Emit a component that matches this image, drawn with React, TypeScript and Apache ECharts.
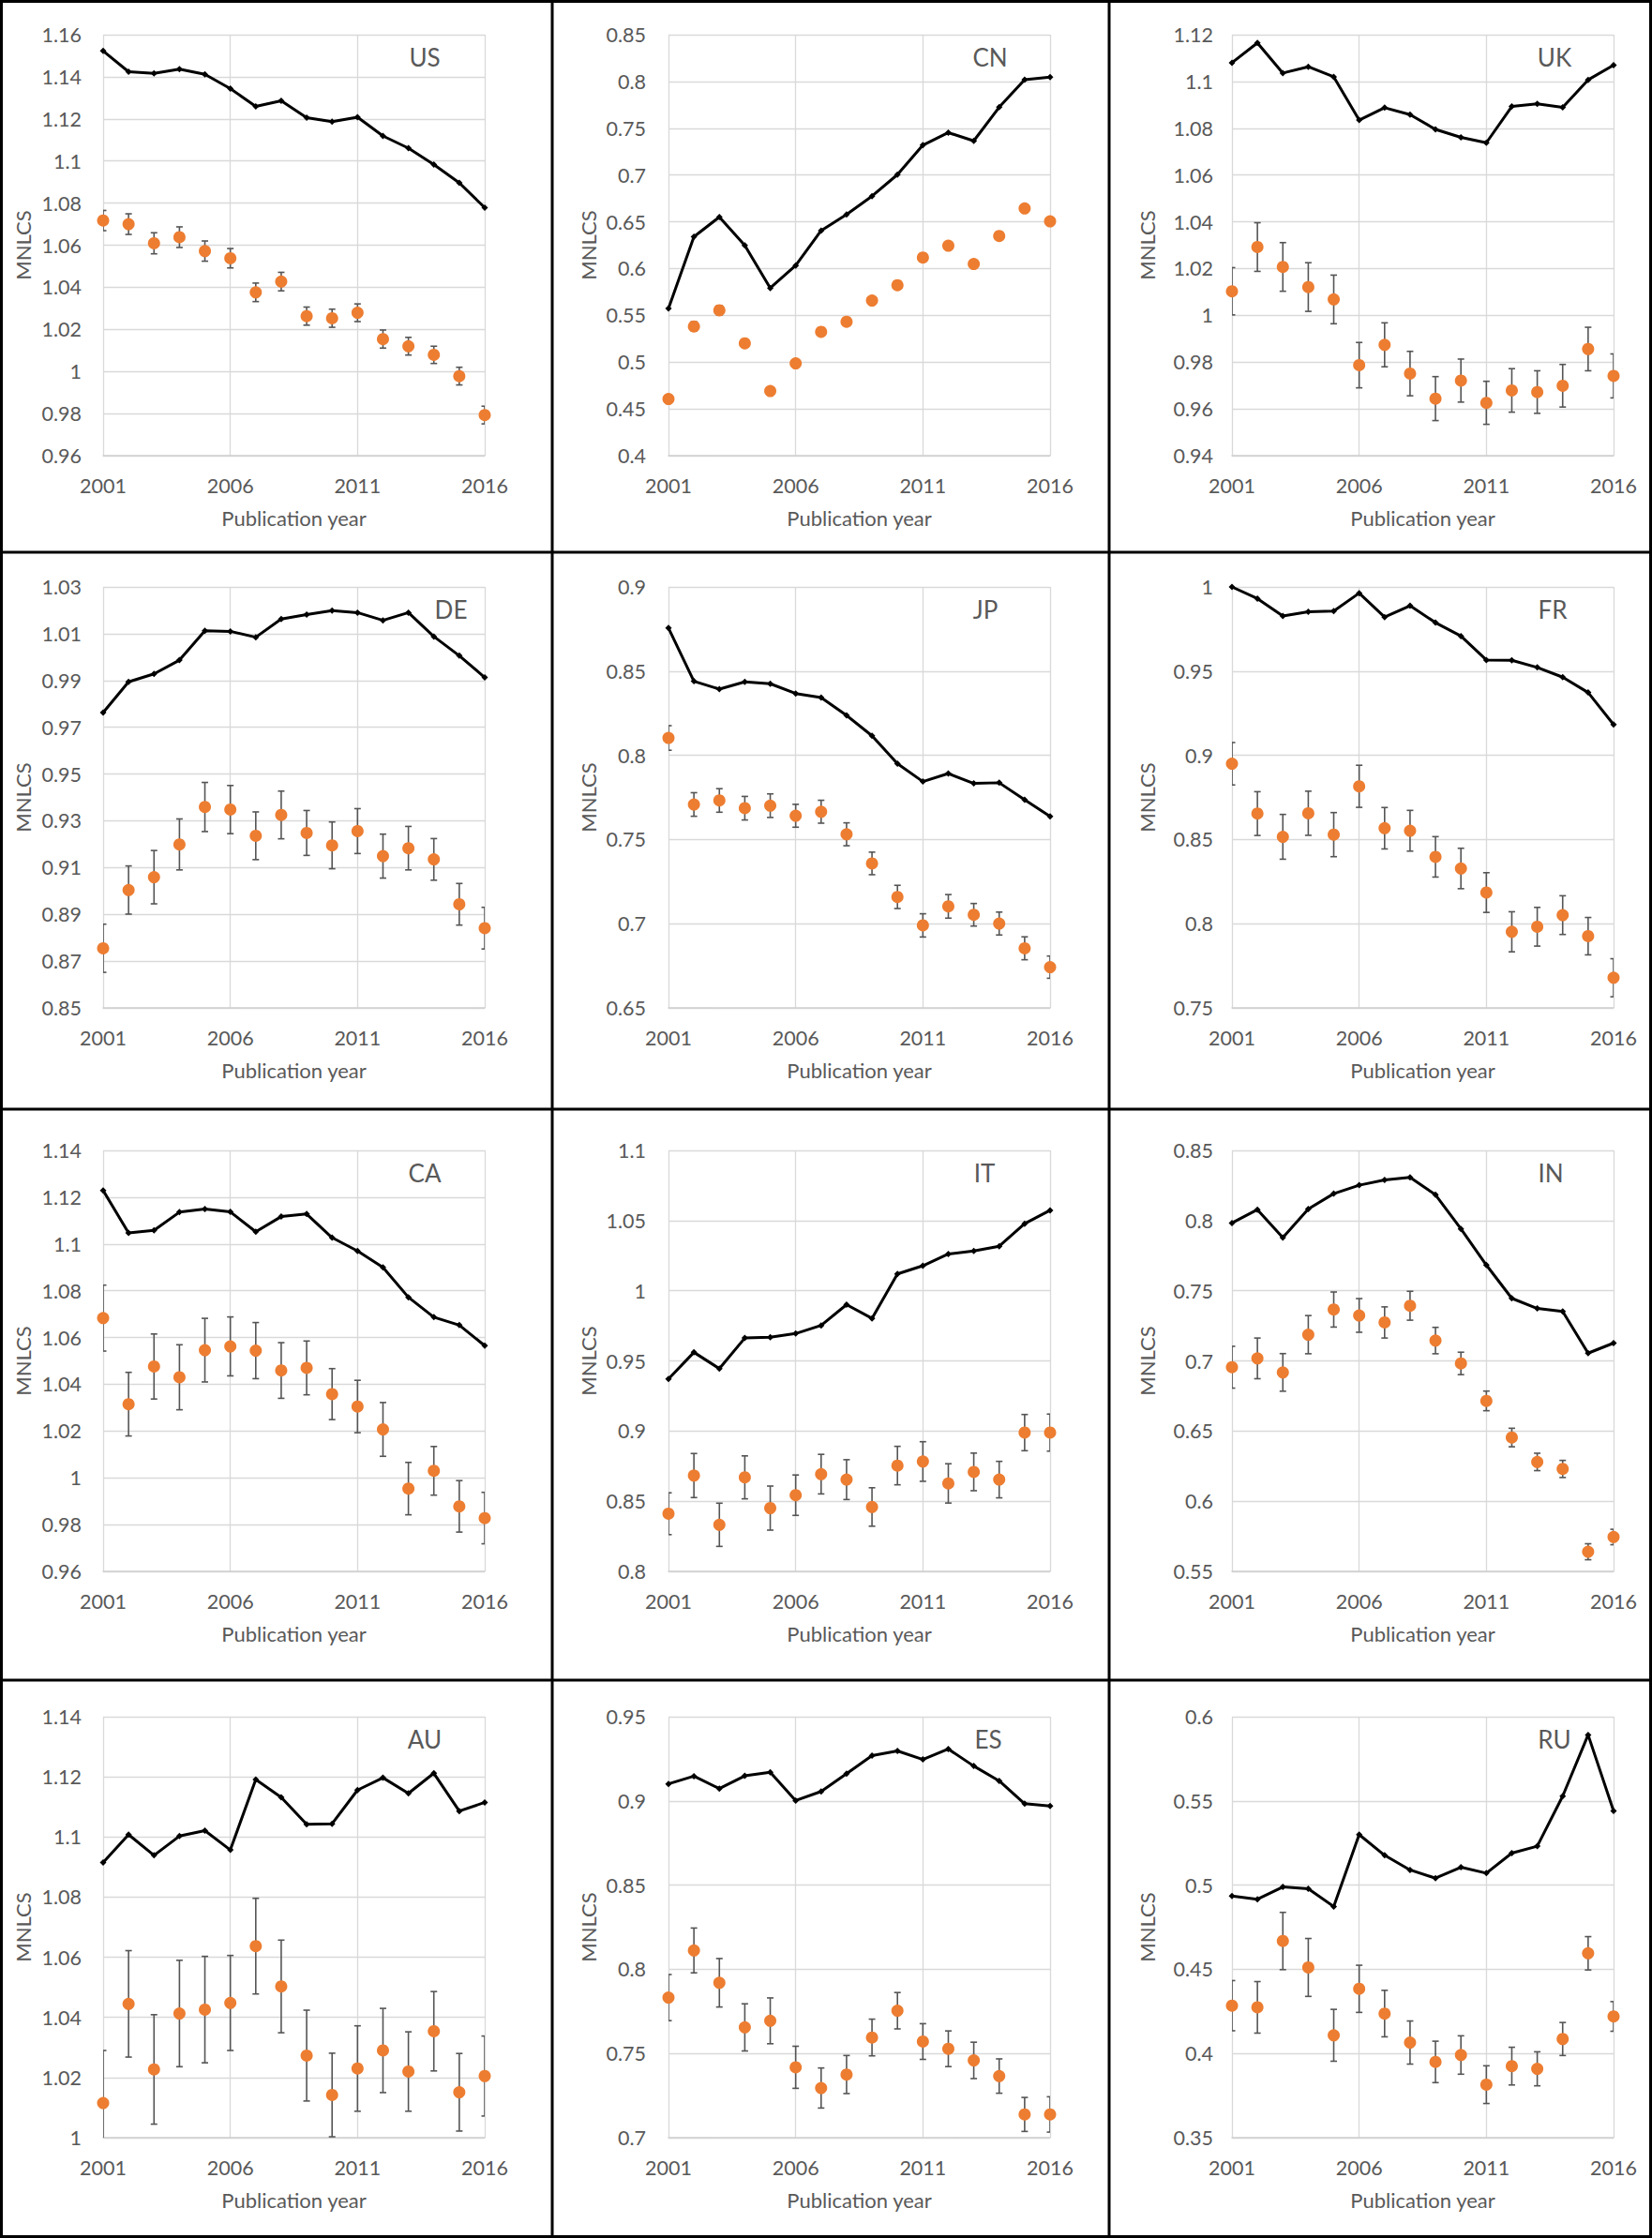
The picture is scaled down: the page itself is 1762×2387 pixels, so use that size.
import React, { useEffect, useRef } from "react";
import * as echarts from "echarts";

const years = [2001, 2002, 2003, 2004, 2005, 2006, 2007, 2008, 2009, 2010, 2011, 2012, 2013, 2014, 2015, 2016];
const countries = ["US", "CN", "UK", "DE", "JP", "FR", "CA", "IT", "IN", "AU", "ES", "RU"];
const xTicks = [2001, 2016, 5];

const usLine = [1.1523, 1.1424, 1.1416, 1.1436, 1.1412, 1.1344, 1.1259, 1.1286, 1.1206, 1.1187, 1.1208, 1.1119, 1.1061, 1.0983, 1.0896, 1.0778];
const usMean = [1.0717, 1.07, 1.0609, 1.0638, 1.0572, 1.0538, 1.0376, 1.0427, 1.0263, 1.0253, 1.0279, 1.0154, 1.012, 1.0079, 0.9978, 0.9793];
const usErr = [0.0048, 0.0049, 0.005, 0.0049, 0.0048, 0.0046, 0.0044, 0.0044, 0.0043, 0.0043, 0.0042, 0.0043, 0.0042, 0.0041, 0.0042, 0.0042];
const usTicks = [0.96, 1.16, 0.02];

const cnLine = [0.5573, 0.634, 0.6551, 0.6248, 0.5792, 0.6033, 0.6406, 0.6578, 0.6774, 0.7004, 0.7319, 0.7453, 0.7365, 0.7725, 0.802, 0.8047];
const cnMean = [0.4606, 0.5381, 0.5554, 0.5201, 0.4691, 0.4986, 0.5324, 0.5431, 0.5658, 0.5822, 0.6118, 0.6244, 0.6049, 0.6348, 0.6643, 0.6505];
const cnErr = [0.004, 0.005, 0.005, 0.004, 0.004, 0.004, 0.003, 0.003, 0.003, 0.003, 0.003, 0.003, 0.003, 0.003, 0.003, 0.003];
const cnTicks = [0.4, 0.85, 0.05];

const ukLine = [1.108, 1.1165, 1.1036, 1.1063, 1.102, 1.0835, 1.0888, 1.0858, 1.0795, 1.0761, 1.0738, 1.0893, 1.0904, 1.0889, 1.1007, 1.107];
const ukMean = [1.0103, 1.0292, 1.0207, 1.0121, 1.0068, 0.9787, 0.9874, 0.9751, 0.9644, 0.9721, 0.9626, 0.9679, 0.9672, 0.9699, 0.9856, 0.9741];
const ukErr = [0.0101, 0.0104, 0.0104, 0.0104, 0.0104, 0.0097, 0.0094, 0.0095, 0.0094, 0.0092, 0.0092, 0.0093, 0.0091, 0.0091, 0.0093, 0.0094];
const ukTicks = [0.94, 1.12, 0.02];

const deLine = [0.9763, 0.9894, 0.9928, 0.9987, 1.0113, 1.011, 1.0085, 1.0163, 1.0182, 1.0199, 1.019, 1.0157, 1.019, 1.0088, 1.0006, 0.9913];
const deMean = [0.8755, 0.9004, 0.9059, 0.9199, 0.9359, 0.9348, 0.9236, 0.9325, 0.9248, 0.9195, 0.9256, 0.9149, 0.9183, 0.9135, 0.8943, 0.8841];
const deErr = [0.0103, 0.0103, 0.0114, 0.0109, 0.0105, 0.0103, 0.0102, 0.0102, 0.0096, 0.01, 0.0096, 0.0094, 0.0093, 0.0089, 0.0089, 0.0089];
const deTicks = [0.85, 1.03, 0.02];

const jpLine = [0.8756, 0.844, 0.8393, 0.8436, 0.8425, 0.8367, 0.8343, 0.8237, 0.8116, 0.795, 0.7844, 0.7892, 0.7833, 0.7837, 0.7736, 0.7637];
const jpMean = [0.8103, 0.7708, 0.7732, 0.7686, 0.7701, 0.7641, 0.7665, 0.7531, 0.7358, 0.7159, 0.699, 0.7103, 0.7053, 0.7001, 0.6854, 0.6742];
const jpErr = [0.0073, 0.007, 0.007, 0.007, 0.007, 0.0068, 0.0068, 0.0068, 0.0067, 0.0069, 0.0069, 0.007, 0.0067, 0.0068, 0.0068, 0.0066];
const jpTicks = [0.65, 0.9, 0.05];

const frLine = [1.0, 0.9931, 0.9827, 0.9853, 0.9857, 0.9963, 0.9821, 0.9888, 0.9788, 0.9708, 0.9566, 0.9564, 0.9522, 0.9464, 0.9373, 0.9183];
const frMean = [0.895, 0.8654, 0.8516, 0.8656, 0.8529, 0.8816, 0.8567, 0.8552, 0.8397, 0.8328, 0.8185, 0.7952, 0.7982, 0.8051, 0.7926, 0.7679];
const frErr = [0.0126, 0.013, 0.0133, 0.0131, 0.0131, 0.0125, 0.0123, 0.0121, 0.012, 0.012, 0.0118, 0.0119, 0.0115, 0.0115, 0.0111, 0.0113];
const frTicks = [0.75, 1.0, 0.05];

const caLine = [1.1229, 1.1047, 1.1058, 1.1136, 1.1149, 1.1137, 1.1052, 1.1117, 1.1128, 1.1027, 1.097, 1.09, 1.0772, 1.0687, 1.0653, 1.0565];
const caMean = [1.0683, 1.0315, 1.0476, 1.043, 1.0546, 1.0562, 1.0544, 1.0459, 1.047, 1.0358, 1.0305, 1.0207, 0.9954, 1.003, 0.9878, 0.9828];
const caErr = [0.0141, 0.0136, 0.0139, 0.0139, 0.0136, 0.0126, 0.012, 0.0119, 0.0115, 0.0109, 0.0112, 0.0115, 0.0112, 0.0104, 0.011, 0.011];
const caTicks = [0.96, 1.14, 0.02];

const itLine = [0.9371, 0.9561, 0.9445, 0.9663, 0.9669, 0.9695, 0.9753, 0.9901, 0.9803, 1.012, 1.0178, 1.0262, 1.0283, 1.0317, 1.0478, 1.0573];
const itMean = [0.8411, 0.8683, 0.8332, 0.867, 0.8451, 0.8543, 0.8693, 0.8654, 0.8459, 0.8754, 0.8783, 0.8627, 0.8709, 0.8654, 0.8989, 0.8989];
const itErr = [0.0149, 0.0157, 0.0154, 0.0153, 0.0157, 0.0144, 0.0141, 0.0142, 0.0137, 0.0137, 0.0141, 0.014, 0.0134, 0.013, 0.0129, 0.0132];
const itTicks = [0.8, 1.1, 0.05];

const inLine = [0.7983, 0.8078, 0.7878, 0.8083, 0.8192, 0.8252, 0.8289, 0.8308, 0.8184, 0.7941, 0.7683, 0.7446, 0.7374, 0.7353, 0.7055, 0.7127];
const inMean = [0.6955, 0.7018, 0.6918, 0.7187, 0.7366, 0.7324, 0.7274, 0.7393, 0.7145, 0.6982, 0.6715, 0.6454, 0.628, 0.623, 0.564, 0.5745];
const inErr = [0.0149, 0.0145, 0.0134, 0.0136, 0.0125, 0.012, 0.0111, 0.0103, 0.0094, 0.008, 0.007, 0.0066, 0.0062, 0.0061, 0.0057, 0.0055];
const inTicks = [0.55, 0.85, 0.05];

const auLine = [1.0915, 1.1008, 1.0939, 1.1003, 1.1021, 1.0957, 1.1191, 1.1132, 1.1042, 1.1044, 1.1156, 1.1197, 1.1145, 1.1212, 1.1086, 1.1115];
const auMean = [1.0115, 1.0445, 1.0227, 1.0413, 1.0426, 1.0448, 1.0637, 1.0503, 1.0273, 1.0142, 1.023, 1.029, 1.022, 1.0354, 1.0151, 1.0205];
const auErr = [0.0175, 0.0177, 0.0182, 0.0177, 0.0177, 0.0158, 0.0159, 0.0154, 0.0151, 0.0139, 0.0142, 0.014, 0.0132, 0.0132, 0.0129, 0.0133];
const auTicks = [1.0, 1.14, 0.02];

const esLine = [0.9101, 0.9147, 0.9073, 0.9149, 0.917, 0.9002, 0.9056, 0.9162, 0.9269, 0.9297, 0.9246, 0.9308, 0.9207, 0.9119, 0.8983, 0.897];
const esMean = [0.7832, 0.8112, 0.792, 0.7655, 0.7694, 0.7418, 0.7295, 0.7375, 0.7595, 0.7754, 0.7571, 0.7528, 0.7459, 0.7366, 0.7138, 0.7138];
const esErr = [0.0137, 0.0133, 0.0144, 0.014, 0.0136, 0.0125, 0.0119, 0.0113, 0.0109, 0.0108, 0.0106, 0.0106, 0.0108, 0.0102, 0.0101, 0.0105];
const esTicks = [0.7, 0.95, 0.05];

const ruLine = [0.4935, 0.4916, 0.4989, 0.4978, 0.4873, 0.53, 0.5177, 0.509, 0.5041, 0.5106, 0.5071, 0.519, 0.5231, 0.5528, 0.5892, 0.544];
const ruMean = [0.4284, 0.4274, 0.4668, 0.4511, 0.4108, 0.4384, 0.4237, 0.4065, 0.395, 0.3991, 0.3815, 0.3925, 0.3909, 0.4086, 0.4595, 0.422];
const ruErr = [0.0149, 0.0153, 0.017, 0.0172, 0.0154, 0.014, 0.0138, 0.0128, 0.0123, 0.0114, 0.0112, 0.0112, 0.0101, 0.0098, 0.0099, 0.0088];
const ruTicks = [0.35, 0.6, 0.05];

const lines = [usLine, cnLine, ukLine, deLine, jpLine, frLine, caLine, itLine, inLine, auLine, esLine, ruLine];
const means = [usMean, cnMean, ukMean, deMean, jpMean, frMean, caMean, itMean, inMean, auMean, esMean, ruMean];
const errs = [usErr, cnErr, ukErr, deErr, jpErr, frErr, caErr, itErr, inErr, auErr, esErr, ruErr];
const ticks = [usTicks, cnTicks, ukTicks, deTicks, jpTicks, frTicks, caTicks, itTicks, inTicks, auTicks, esTicks, ruTicks];

// layout (pixels)
const colLeft = [110, 713, 1314];
const rowTop = [37, 626, 1227, 1831];
const gridW = 407;
const gridH = 449;
const yLabelMargin = [23, 24, 20];
const yNameGap = [75, 75, 80];
const labelFromRight = [64, 64, 63, 36, 69, 65, 64, 70, 67, 64, 66, 63];
const vLines = [1.5, 589, 1183, 1760.5];
const hLines = [1.5, 589, 1183, 1792, 2385.5];

const FONT = "Lato, 'Noto Sans', sans-serif";
const TXT = "#595959";
const GRID = "#d9d9d9";
const TICK_FS = 21.5;
const NAME_FS = 22;

function fmt(v: number) {
  return String(parseFloat(Number(v).toFixed(3)));
}

function buildOption() {
  const grid: any[] = [];
  const xAxis: any[] = [];
  const yAxis: any[] = [];
  const series: any[] = [];
  const graphic: any[] = [];

  countries.forEach((code, i) => {
    const c = i % 3;
    const r = Math.floor(i / 3);
    grid.push({ left: colLeft[c], top: rowTop[r], width: gridW, height: gridH });
    xAxis.push({
      gridIndex: i,
      type: "value",
      min: xTicks[0],
      max: xTicks[1],
      interval: xTicks[2],
      axisLine: { show: true, lineStyle: { color: "#d0d0d0", width: 1.5 } },
      axisTick: { show: false },
      splitLine: { show: true, lineStyle: { color: GRID, width: 1.3 } },
      axisLabel: { formatter: (v: number) => String(v), color: TXT, fontSize: TICK_FS, fontFamily: FONT, margin: 21 },
      name: "Publication year",
      nameLocation: "middle",
      nameGap: 55,
      nameTextStyle: { color: TXT, fontSize: NAME_FS, fontFamily: FONT },
    });
    const t = ticks[i];
    yAxis.push({
      gridIndex: i,
      type: "value",
      min: t[0],
      max: t[1],
      interval: t[2],
      axisLine: { show: false },
      axisTick: { show: false },
      splitLine: { show: true, lineStyle: { color: GRID, width: 1.3 } },
      axisLabel: { formatter: fmt, color: TXT, fontSize: TICK_FS, fontFamily: FONT, margin: yLabelMargin[c] },
      name: "MNLCS",
      nameLocation: "middle",
      nameGap: yNameGap[c],
      nameRotate: 90,
      nameTextStyle: { color: TXT, fontSize: NAME_FS, fontFamily: FONT },
    });
    series.push({
      type: "custom",
      xAxisIndex: i,
      yAxisIndex: i,
      clip: true,
      silent: true,
      z: 2,
      dimensions: ["year", "mean", "err"],
      encode: { x: 0, y: 1 },
      data: years.map((y, k) => [y, means[i][k], errs[i][k]]),
      renderItem: (params: any, api: any) => {
        const x = api.value(0);
        const m = api.value(1);
        const e = api.value(2);
        const hi = api.coord([x, m + e]);
        const lo = api.coord([x, m - e]);
        const cw = 3.5;
        const style = { stroke: "#555555", lineWidth: 1.6 };
        return {
          type: "group",
          children: [
            { type: "line", shape: { x1: hi[0], y1: hi[1], x2: lo[0], y2: lo[1] }, style },
            { type: "line", shape: { x1: hi[0] - cw, y1: hi[1], x2: hi[0] + cw, y2: hi[1] }, style },
            { type: "line", shape: { x1: lo[0] - cw, y1: lo[1], x2: lo[0] + cw, y2: lo[1] }, style },
          ],
        };
      },
    });
    series.push({
      type: "scatter",
      xAxisIndex: i,
      yAxisIndex: i,
      z: 3,
      symbol: "circle",
      symbolSize: 13,
      itemStyle: { color: "#ED7D31", opacity: 1 },
      data: years.map((y, k) => [y, means[i][k]]),
    });
    series.push({
      type: "line",
      xAxisIndex: i,
      yAxisIndex: i,
      z: 4,
      symbol: "diamond",
      symbolSize: 7,
      showSymbol: true,
      lineStyle: { color: "#000", width: 3 },
      itemStyle: { color: "#000" },
      data: years.map((y, k) => [y, lines[i][k]]),
    });
    graphic.push({
      type: "text",
      x: colLeft[c] + gridW - labelFromRight[i],
      y: rowTop[r] + 24,
      z: 10,
      style: {
        text: code,
        fill: TXT,
        fontSize: 26,
        fontFamily: FONT,
        align: "center",
        verticalAlign: "middle",
      },
    });
  });

  vLines.forEach((x) => {
    graphic.push({ type: "line", z: 20, shape: { x1: x, y1: 0, x2: x, y2: 2387 }, style: { stroke: "#000", lineWidth: 3 } });
  });
  hLines.forEach((y) => {
    graphic.push({ type: "line", z: 20, shape: { x1: 0, y1: y, x2: 1762, y2: y }, style: { stroke: "#000", lineWidth: 3 } });
  });

  return {
    animation: false,
    backgroundColor: "#ffffff",
    grid,
    xAxis,
    yAxis,
    series,
    graphic,
  };
}

export default function App() {
  const ref = useRef<HTMLDivElement>(null);
  useEffect(() => {
    if (!ref.current) return;
    const chart = echarts.init(ref.current, null, { renderer: "svg" });
    chart.setOption(buildOption() as any);
    return () => chart.dispose();
  }, []);
  return (
    <div
      ref={ref}
      style={{ position: "absolute", left: 0, top: 0, width: 1762, height: 2387, background: "#fff" }}
    />
  );
}
